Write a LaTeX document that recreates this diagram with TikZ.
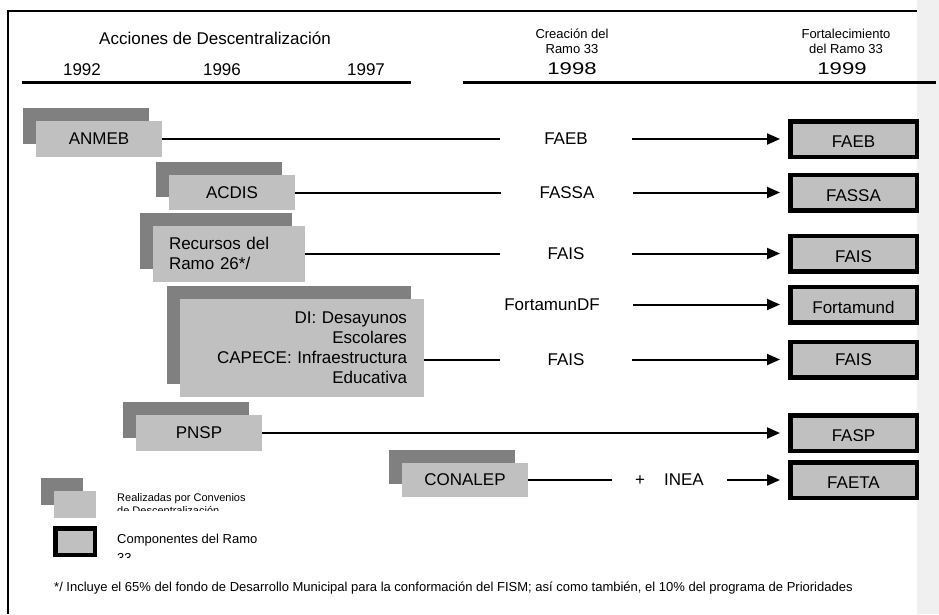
\documentclass[tikz,border=0pt]{standalone}
\usepackage{fontspec}
\setmainfont{Liberation Sans}
\usepackage{graphicx}
\usepackage{tikz}
\usetikzlibrary{arrows.meta, shadows}

\definecolor{backgray}{HTML}{808080}
\definecolor{frontgray}{HTML}{C0C0C0}
\definecolor{bandgray}{HTML}{F0F0F0}

\newcommand{\lblfont}{\fontsize{17}{20}\selectfont}
\newcommand{\subfont}{\fontsize{13}{15}\selectfont}
\newcommand{\legfont}{\fontsize{11}{13.4}\selectfont}
\newcommand{\keyfont}{\fontsize{13}{15}\selectfont}
\newcommand{\notefont}{\fontsize{13}{15}\selectfont}

\tikzset{
  actbox/.style={fill=frontgray, inner sep=0pt, font=\lblfont,
    drop shadow={shadow xshift=-13pt, shadow yshift=13pt, fill=backgray, opacity=1}},
  tgtbox/.style={draw=black, line width=4.5pt, fill=frontgray, inner sep=0pt,
    minimum width=126.5pt, minimum height=35.5pt, font=\lblfont},
  cuttgt/.style={tgtbox, path picture={
      \clip (path picture bounding box.north west) rectangle
        ([yshift=-25.3pt]path picture bounding box.north east);
      \node[font=\lblfont, anchor=base, inner sep=0pt]
        at ([yshift=-26.5pt]path picture bounding box.north) {#1};}},
  fund/.style={font=\lblfont, inner sep=0pt, minimum width=132pt},
  link/.style={line width=2pt},
  feed/.style={line width=2pt, -{Triangle[length=13pt,width=11pt]}, shorten >=8pt},
  rule/.style={line width=3pt}
}

\begin{document}
\begin{tikzpicture}[x=1pt, y=-1pt]
  \useasboundingbox (0,0) rectangle (939,614);
  \fill[bandgray] (917,0) rectangle (939,614);
  \draw[line width=2pt] (8,614) -- (8,11) -- (917,11);

  % encabezado
  \node[font=\lblfont] (acc) at (215,38) {Acciones de Descentralización};
  \node[font=\lblfont] (y92) at (82,70) {1992};
  \node[font=\lblfont] (y96) at (222,70) {1996};
  \node[font=\lblfont] (y97) at (366,70) {1997};
  \node[font=\subfont, align=center] (crea) at (572,41.5) {Creación del\\Ramo 33};
  \node[font=\subfont, align=center] (fort) at (846,41.5) {Fortalecimiento\\del Ramo 33};
  \node[font=\lblfont] (y98) at (572,69) {\scalebox{1.3}[1]{1998}};
  \node[font=\lblfont] (y99) at (842,69) {\scalebox{1.3}[1]{1999}};
  \draw[rule] (22,82) -- (411,82);
  \draw[rule] (463,82) -- (936,82);

  % acciones
  \node[actbox, minimum width=126, minimum height=36] (anmeb) at (99,139) {ANMEB};
  \node[actbox, minimum width=126, minimum height=35] (acdis) at (232,192.5) {ACDIS};
  \node[actbox, minimum width=152, minimum height=56, text width=120, align=left] (ramo26) at (229,253.5) {Recursos del\\Ramo 26*/};
  \node[actbox, minimum width=244, minimum height=98, text width=210, align=right] (dicap) at (302,348) {DI: Desayunos\\Escolares\\CAPECE: Infraestructura\\Educativa};
  \node[actbox, minimum width=126, minimum height=36] (pnsp) at (199,433) {PNSP};
  \node[actbox, minimum width=126, minimum height=34] (conalep) at (465,480) {CONALEP};

  % fondos 1998
  \node[fund] (faeb) at (566,139) {FAEB};
  \node[fund] (fassa) at (567,192.5) {FASSA};
  \node[fund] (fais) at (566,253.5) {FAIS};
  \node[font=\lblfont, inner sep=0pt, minimum width=162] (fortdf) at (552,304.5) {FortamunDF};
  \node[fund] (faisb) at (566,359.5) {FAIS};
  \node[font=\lblfont, inner sep=0pt, minimum width=115] (inea) at (669.5,480) {+\hspace{19pt}INEA};

  % componentes 1999
  \node[cuttgt=FAEB] (faebt) at (853.5,139) {};
  \node[cuttgt=FASSA] (fassat) at (853.5,192.5) {};
  \node[cuttgt=FAIS] (faist) at (853.5,253.5) {};
  \node[cuttgt=Fortamund] (fortt) at (853.5,304.5) {};
  \node[tgtbox] (faisbt) at (853.5,359.5) {FAIS};
  \node[cuttgt=FASP] (faspt) at (853.5,433) {};
  \node[cuttgt=FAETA] (faetat) at (853.5,480) {};

  \draw[link] (anmeb) -- (faeb);
  \draw[feed] (faeb) -- (faebt);
  \draw[link] (acdis) -- (fassa);
  \draw[feed] (fassa) -- (fassat);
  \draw[link] (ramo26) -- (fais);
  \draw[feed] (fais) -- (faist);
  \draw[feed] (fortdf) -- (fortt);
  \draw[link] (dicap.east |- faisb) -- (faisb);
  \draw[feed] (faisb) -- (faisbt);
  \draw[feed] (pnsp) -- (faspt);
  \draw[link] (conalep) -- (inea);
  \draw[feed] (inea) -- (faetat);

  % leyenda
  \node[actbox, minimum width=42, minimum height=27] (legact) at (75,504.5) {};
  \node[font=\legfont, anchor=base west, inner sep=0pt] (conv) at (117,501.2) {Realizadas por Convenios};
  \begin{scope}
    \clip (110,503) rectangle (300,510);
    \node[font=\legfont, anchor=base west, inner sep=0pt] (desc) at (117,514.6) {de Descentralización};
  \end{scope}
  \node[tgtbox, minimum width=39.5, minimum height=26.5] (legtgt) at (75,541.5) {};
  \node[font=\keyfont, anchor=base west, inner sep=0pt] (comp) at (117,543.3) {Componentes del Ramo};
  \begin{scope}
    \clip (110,546) rectangle (300,557);
    \node[font=\keyfont, anchor=base west, inner sep=0pt] (r33) at (117,562.6) {33};
  \end{scope}

  \node[font=\notefont, anchor=west, inner sep=0pt] (note) at (54,588) {*/ Incluye el 65\% del fondo de Desarrollo Municipal para la conformación del FISM; así como también, el 10\% del programa de Prioridades};
\end{tikzpicture}
\end{document}
